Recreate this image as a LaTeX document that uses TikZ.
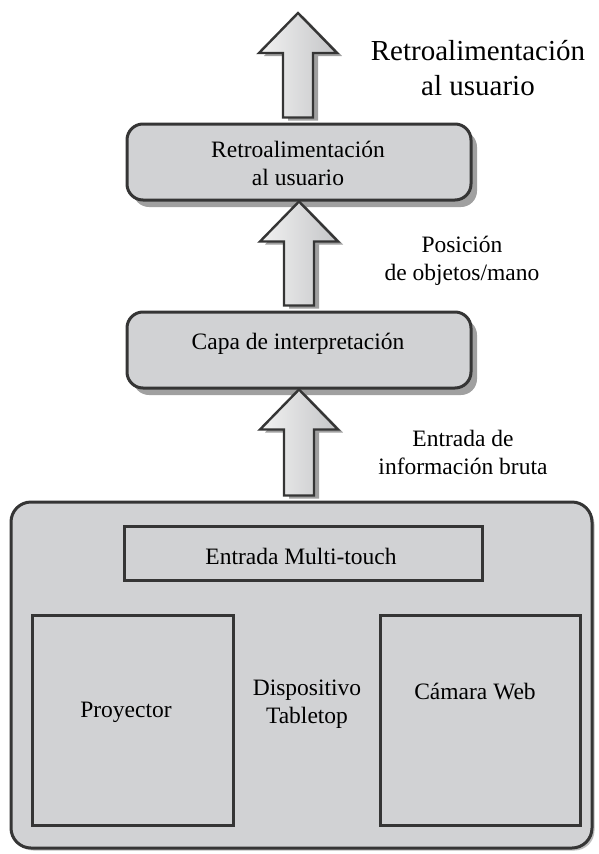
\documentclass[tikz,border=0pt]{standalone}
\usepackage{fontspec}
\setmainfont{Liberation Serif}
\usetikzlibrary{shadows,calc}
\definecolor{boxfill}{HTML}{D1D2D4}
\definecolor{edge}{HTML}{353535}
\definecolor{shade}{HTML}{A0A0A0}
\definecolor{arrowlight}{HTML}{F2F2F2}
\definecolor{arrowdark}{HTML}{C4C5C7}
\tikzset{
  txt/.style={font=\fontsize{23.5}{28}\selectfont, align=center, text=black},
  bigtxt/.style={font=\fontsize{29}{35}\selectfont, align=center, text=black},
  layerbox/.style={draw=edge, line width=3pt, fill=boxfill, rounded corners=16pt,
    minimum width=344pt, minimum height=76pt, inner sep=0pt,
    drop shadow={shadow xshift=6pt, shadow yshift=-7pt, fill=shade, opacity=1}},
  devicebox/.style={draw=edge, line width=3pt, fill=boxfill, rounded corners=20pt,
    minimum width=581pt, minimum height=346pt, inner sep=0pt,
    drop shadow={shadow xshift=2.5pt, shadow yshift=-2.5pt, fill=shade!70, opacity=1}},
  partbox/.style={draw=edge, line width=3pt, fill=boxfill, inner sep=0pt},
  blockarrow/.style={draw=edge, line width=2.4pt, line join=miter,
    left color=arrowlight, right color=arrowdark,
    drop shadow={shadow xshift=5pt, shadow yshift=-3pt, fill=shade, opacity=1}}
}
\newcommand\blockarr[2]{%
  \path[blockarrow] let \p1=(#1), \p2=(#2) in
    (\x1,\y1) -- (\x1+39pt,\y1-40pt) -- (\x1+15pt,\y1-40pt) -- (\x1+15pt,\y2+5pt)
    -- (\x1-15pt,\y2+5pt) -- (\x1-15pt,\y1-40pt) -- (\x1-39pt,\y1-40pt) -- cycle;}
\begin{document}
\begin{tikzpicture}[x=1pt,y=-1pt]
\useasboundingbox (0,0) rectangle (598,854);

% device
\node[devicebox] (device) at (301.5,675) {};
\node[partbox, minimum width=358pt, minimum height=54pt] (multi) at (303,553) {};
\node[txt] (multitxt) at (301,556) {Entrada Multi-touch};
\node[partbox, minimum width=201pt, minimum height=210pt] (proy) at (132.5,720) {};
\node[txt] (proytxt) at (126,712) {Proyector};
\node[partbox, minimum width=200pt, minimum height=210pt] (cam) at (480,720) {};
\node[txt] (camtxt) at (475,691) {Cámara Web};
\node[txt] (devtxt) at (307,704) {Dispositivo\\Tabletop};

% layers
\node[layerbox] (capa) at (299,350) {};
\node[txt] (capatxt) at (298,344) {Capa de interpretación};
\node[layerbox] (retro) at (299,162) {};
\node[txt] (retrotxt) at (298,163) {Retroalimentación\\al usuario};

% arrows
\coordinate (toptip) at (298,13);
\blockarr{capa.south}{device.north}
\blockarr{retro.south}{capa.north}
\blockarr{toptip}{retro.north}

% side labels
\node[bigtxt] (lbltop) at (478,68) {Retroalimentación\\al usuario};
\node[txt] (lblpos) at (462,261) {Posición\\de objetos/mano};
\node[txt] (lblin) at (463,452) {Entrada de\\información bruta};
\end{tikzpicture}
\end{document}
